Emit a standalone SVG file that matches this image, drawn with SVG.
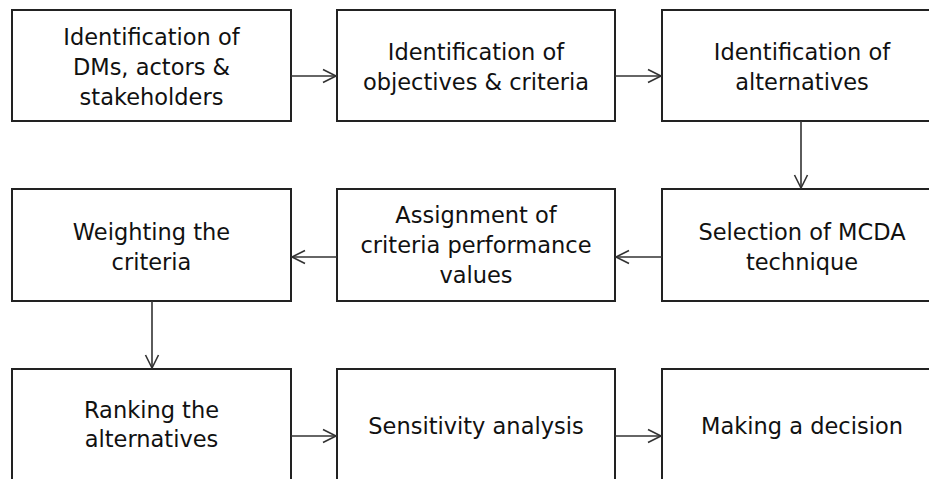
<svg xmlns="http://www.w3.org/2000/svg" width="929" height="479" viewBox="0 0 929 479">
  <style>
    .box { fill: #ffffff; stroke: #222222; stroke-width: 2; }
    .lbl { font-family: "DejaVu Sans", Verdana, sans-serif; font-size: 22.5px; fill: #111111; text-anchor: middle; }
    .edge { fill: none; stroke: #333333; stroke-width: 1.6; }
    .head { fill: none; stroke: #333333; stroke-width: 1.6; stroke-linejoin: miter; }
  </style>
  <rect width="929" height="479" fill="#ffffff"/>

  <!-- row 1 -->
  <g id="n-dms">
    <rect class="box" x="12" y="10" width="279" height="111"/>
    <text class="lbl" x="151.5" y="45">Identification of</text>
    <text class="lbl" x="151.5" y="75">DMs, actors &amp;</text>
    <text class="lbl" x="151.5" y="105">stakeholders</text>
  </g>
  <g id="n-objectives">
    <rect class="box" x="337" y="10" width="278" height="111"/>
    <text class="lbl" x="476" y="60">Identification of</text>
    <text class="lbl" x="476" y="90">objectives &amp; criteria</text>
  </g>
  <g id="n-alternatives">
    <rect class="box" x="662" y="10" width="280" height="111"/>
    <text class="lbl" x="802" y="60">Identification of</text>
    <text class="lbl" x="802" y="90">alternatives</text>
  </g>

  <!-- row 2 -->
  <g id="n-weighting">
    <rect class="box" x="12" y="189" width="279" height="112"/>
    <text class="lbl" x="151.5" y="240">Weighting the</text>
    <text class="lbl" x="151.5" y="270">criteria</text>
  </g>
  <g id="n-assignment">
    <rect class="box" x="337" y="189" width="278" height="112"/>
    <text class="lbl" x="476" y="223">Assignment of</text>
    <text class="lbl" x="476" y="253">criteria performance</text>
    <text class="lbl" x="476" y="283">values</text>
  </g>
  <g id="n-selection">
    <rect class="box" x="662" y="189" width="280" height="112"/>
    <text class="lbl" x="802" y="240">Selection of MCDA</text>
    <text class="lbl" x="802" y="270">technique</text>
  </g>

  <!-- row 3 -->
  <g id="n-ranking">
    <rect class="box" x="12" y="369" width="279" height="114"/>
    <text class="lbl" x="151.5" y="418">Ranking the</text>
    <text class="lbl" x="151.5" y="447">alternatives</text>
  </g>
  <g id="n-sensitivity">
    <rect class="box" x="337" y="369" width="278" height="114"/>
    <text class="lbl" x="476" y="434">Sensitivity analysis</text>
  </g>
  <g id="n-decision">
    <rect class="box" x="662" y="369" width="280" height="114"/>
    <text class="lbl" x="802" y="434">Making a decision</text>
  </g>

  <!-- connectors: shaft plus open chevron head -->
  <g id="connectors">
    <path class="edge" d="M291 76 H336"/>
    <path class="head" d="M323 69.5 L336 76 L323 82.5"/>

    <path class="edge" d="M615 76 H661"/>
    <path class="head" d="M648 69.5 L661 76 L648 82.5"/>

    <path class="edge" d="M801 121 V188"/>
    <path class="head" d="M794.5 175 L801 188 L807.5 175"/>

    <path class="edge" d="M662 257 H616"/>
    <path class="head" d="M629 250.5 L616 257 L629 263.5"/>

    <path class="edge" d="M337 257 H292"/>
    <path class="head" d="M305 250.5 L292 257 L305 263.5"/>

    <path class="edge" d="M152 301 V368"/>
    <path class="head" d="M145.5 355 L152 368 L158.5 355"/>

    <path class="edge" d="M291 436 H336"/>
    <path class="head" d="M323 429.5 L336 436 L323 442.5"/>

    <path class="edge" d="M615 436 H661"/>
    <path class="head" d="M648 429.5 L661 436 L648 442.5"/>
  </g>
</svg>
